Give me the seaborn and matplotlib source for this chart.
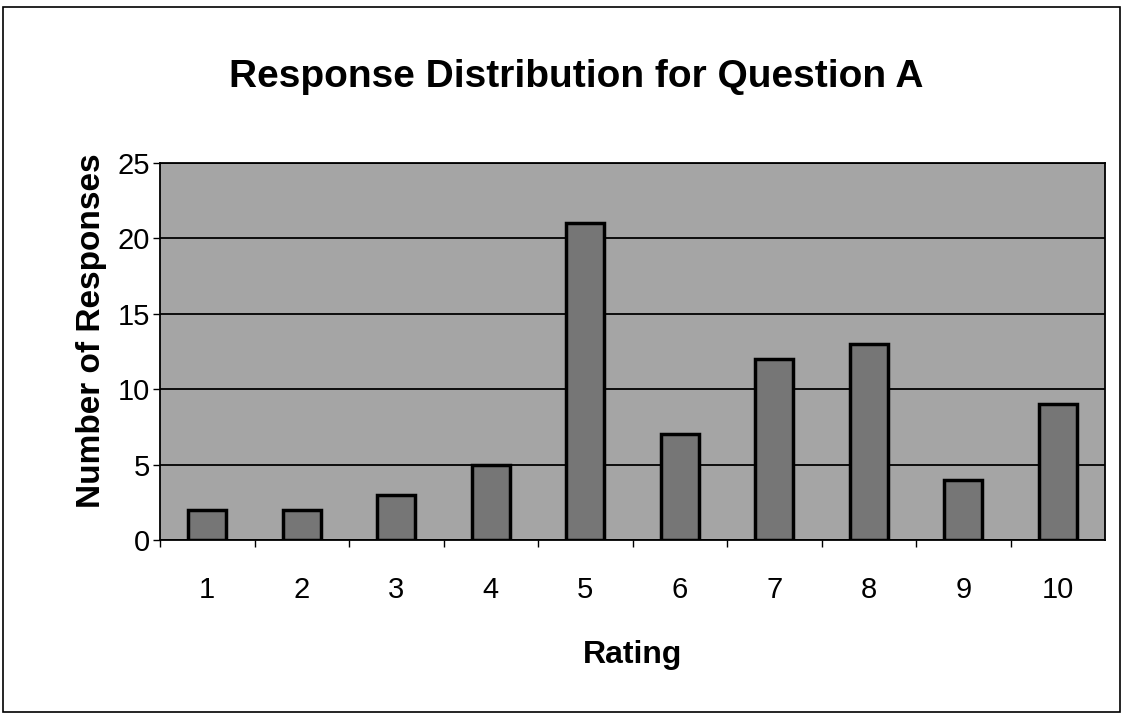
import numpy as np
import pandas as pd
import matplotlib
matplotlib.use("Agg")
import matplotlib.pyplot as plt
import seaborn as sns
from matplotlib.patches import Rectangle

ratings = ["1", "2", "3", "4", "5", "6", "7", "8", "9", "10"]
responses = [2, 2, 3, 5, 21, 7, 12, 13, 4, 9]
y_ticks = [0, 5, 10, 15, 20, 25]

df = pd.DataFrame({"Rating": ratings, "Responses": responses})

sns.set_style("white")
plt.rcParams["font.family"] = ["Liberation Sans", "DejaVu Sans"]
plt.rcParams["text.color"] = "black"
plt.rcParams["axes.labelcolor"] = "black"
plt.rcParams["xtick.color"] = "black"
plt.rcParams["ytick.color"] = "black"

fig = plt.figure(figsize=(11.23, 7.21), dpi=100)
ax = fig.add_axes([0.1425, 0.251, 0.8415, 0.523])

sns.barplot(data=df, x="Rating", y="Responses", color="#767676", width=0.4,
            edgecolor="black", linewidth=2.5, saturation=1, ax=ax, zorder=3)

ax.set_facecolor("#a5a5a5")
ax.set_ylim(0, 25)
ax.set_xlim(-0.5, len(ratings) - 0.5)
ax.set_yticks(y_ticks)
ax.yaxis.grid(True, color="black", linewidth=1.3, zorder=1)
ax.set_axisbelow(True)
for s in ax.spines.values():
    s.set_color("black")
    s.set_linewidth(1.3)

# tick marks between categories, labels centred under bars
ax.set_xticks(np.arange(len(ratings)) - 0.5, minor=True)
ax.tick_params(axis="x", which="major", length=0, pad=26, labelsize=21)
ax.tick_params(axis="x", which="minor", length=5, width=1, color="black", bottom=True)
ax.tick_params(axis="y", length=5, width=1, color="black", left=True, pad=2, labelsize=21)

ax.set_xlabel("Rating", fontsize=23, fontweight="bold", labelpad=26)
ax.set_ylabel("Number of Responses", fontsize=24, fontweight="bold", labelpad=8)
ax.yaxis.label.set_y(0.555)
fig.text(0.513, 0.893, "Response Distribution for Question A", ha="center", va="center",
         fontsize=28, fontweight="bold")

fig.patches.append(Rectangle((0.003, 0.012), 0.994, 0.978, transform=fig.transFigure,
                             fill=False, edgecolor="black", linewidth=1.2))

fig.savefig("out.png", dpi=100)
